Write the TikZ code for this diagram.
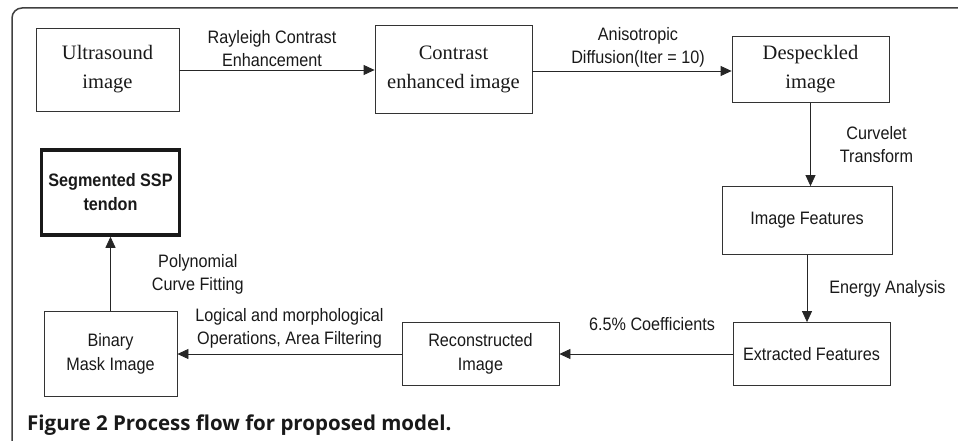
\documentclass[tikz,border=0pt]{standalone}
\usepackage{fontspec}
\setmainfont{Liberation Serif}
\newfontfamily\flowfont[FakeStretch=0.9]{Liberation Sans}
\newfontfamily\capfont{Open Sans}
\usetikzlibrary{positioning,arrows.meta}

\begin{document}
\begin{tikzpicture}[x=1pt,y=-1pt,auto,
    every node/.style={on grid},
    stage/.style={draw=black!80,line width=0.8pt,align=center,inner sep=0pt,
      font=\flowfont\fontsize{18}{24}\selectfont,text=black!90},
    serifstage/.style={stage,font=\fontsize{20.5}{29}\selectfont},
    flow/.style={draw=black!85,line width=0.8pt,-{Triangle[length=11pt,width=10pt]}},
    note/.style={font=\flowfont\fontsize{18}{23}\selectfont,align=center,text=black!90,inner sep=3pt}]
    \useasboundingbox (0,0) rectangle (958,441);
    \draw[line width=1.5pt,black!75,rounded corners=10pt] (12,441) -- (12,8) -- (958,8);
    \node[serifstage,minimum width=143pt,minimum height=83pt] (US) at (107.5,69.5) {Ultrasound\\image};
    \node[serifstage,minimum width=157pt,minimum height=88pt,right=346pt of US] (CE) {Contrast\\enhanced image};
    \node[serifstage,minimum width=157pt,minimum height=66pt,right=357pt of CE] (DS) {Despeckled\\image};
    \node[stage,minimum width=170pt,minimum height=68pt,below=151pt of DS,xshift=-3.5pt] (IF) {Image Features};
    \node[stage,minimum width=157pt,minimum height=63pt,below=133.5pt of IF,xshift=4.5pt] (EF) {Extracted Features};
    \node[stage,minimum width=157pt,minimum height=63pt,left=331pt of EF] (RI) {Reconstructed\\Image};
    \node[stage,minimum width=133pt,minimum height=85pt,left=370pt of RI] (BM) {Binary\\Mask Image};
    \node[stage,line width=3.5pt,draw=black!90,minimum width=138pt,minimum height=85pt,above=161.5pt of BM,
      font=\flowfont\bfseries\fontsize{18}{24}\selectfont] (SSP) {Segmented SSP\\tendon};
    \draw[flow] (US.east |- 0,70) -- node[note,xshift=-5pt] {Rayleigh Contrast\\Enhancement} (CE.west |- 0,70);
    \draw[flow] (CE.east |- 0,71) -- node[note,xshift=6pt] {Anisotropic\\Diffusion(Iter = 10)} (DS.west |- 0,71);
    \draw[flow] (DS.south) -- node[note,right=26pt] {Curvelet\\Transform} (DS.south |- IF.north);
    \draw[flow] (IF.south) -- node[note,right=19pt] {Energy Analysis} (IF.south |- EF.north);
    \draw[flow] (EF.west) -- node[note,above,xshift=6pt,yshift=20pt] {6.5\% Coefficients} (RI.east);
    \draw[flow] (RI.west) -- node[note,above,yshift=2pt] {Logical and morphological\\Operations, Area Filtering} (BM.east);
    \draw[flow] (BM.north) -- node[note,right=38pt] {Polynomial\\Curve Fitting} (SSP.south);
    \node[anchor=base west,inner sep=0pt,font=\capfont\bfseries\fontsize{20.5}{24}\selectfont,text=black!90] (CAP) at (27,430) {Figure 2 Process flow for proposed model.};
  \end{tikzpicture}
\end{document}
